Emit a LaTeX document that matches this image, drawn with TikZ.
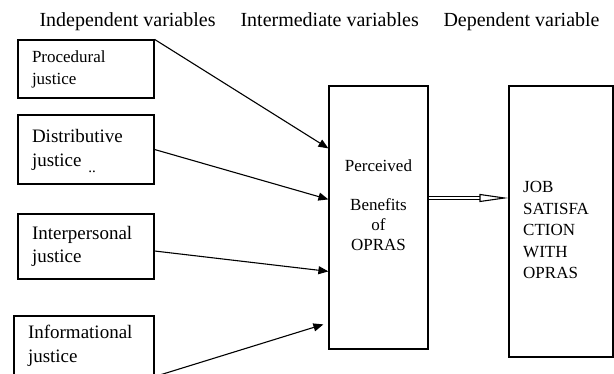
\documentclass[tikz,border=0pt]{standalone}
\usepackage{fontspec}
\setmainfont{Liberation Serif}
\usetikzlibrary{arrows.meta, calc, positioning}
\tikzset{>={Triangle[length=10pt,width=8pt]}}

\begin{document}
\begin{tikzpicture}[x=1pt, y=-1pt,
    varbox/.style={draw, line width=1.2pt, inner xsep=14pt, inner ysep=0pt, align=left},
    head/.style={anchor=base west, font=\fontsize{20}{24}\selectfont},
    link/.style={->, line width=1.1pt}]
    \useasboundingbox (0,0) rectangle (614,374);
    % column headings
    \node [head](indep) at (36,27) {Independent variables};
    \node [head](inter) at (237,27) {Intermediate variables};
    \node [head](dep) at (440,27) {Dependent variable};
    % independent variables
    \node [varbox, text width=108pt, minimum height=58pt, font=\fontsize{17}{22}\selectfont](proc) at (86,69) {Procedural\\justice};
    \node [varbox, text width=108pt, minimum height=69pt, font=\fontsize{19}{24}\selectfont](dist) at (86,149.5) {Distributive\\justice};
    \node [font=\fontsize{15}{18}\selectfont](dots) at (92,172) {..};
    \node [varbox, text width=108pt, minimum height=65pt, font=\fontsize{19}{23}\selectfont](pers) at (86,246.5) {Interpersonal\\justice};
    \node [varbox, text width=112pt, minimum height=60pt, font=\fontsize{19}{24}\selectfont](info) at (84,346) {Informational\\justice};
    % intermediate and dependent variables
    \node [draw, line width=1.2pt, minimum width=99pt, minimum height=263pt](ben) at (378.5,217.5) {};
    \node [align=center, inner sep=0pt, font=\fontsize{17}{20}\selectfont](bentxt) at (378.5,205.5) {Perceived\\[19pt]Benefits\\of\\OPRAS};
    \node [draw, line width=1.2pt, minimum width=104pt, minimum height=271pt](job) at (561,221.5) {};
    \node [align=left, anchor=west, inner sep=0pt, font=\fontsize{17}{21.5}\selectfont](jobtxt) at (523,230) {JOB\\SATISFA\\CTION\\WITH\\OPRAS};
    % arrows
    \draw [link] (proc.north east) -- ($(ben.north west)+(0,63)$);
    \draw [link] (dist.east) -- ($(ben.north west)+(0,114)$);
    \draw [link] ([yshift=-4.5pt]pers.east) -- ($(ben.north west)+(0,186)$);
    \draw [link] (info.south east) -- ($(ben.north west)+(-5,239)$);
    \draw [line width=1.1pt, double, double distance=2pt, -{Triangle[open, length=29pt, width=8pt]}] ($(ben.east)+(0,-19.5)$) -- ($(job.west)+(0,-23.5)$);
\end{tikzpicture}
\end{document}
